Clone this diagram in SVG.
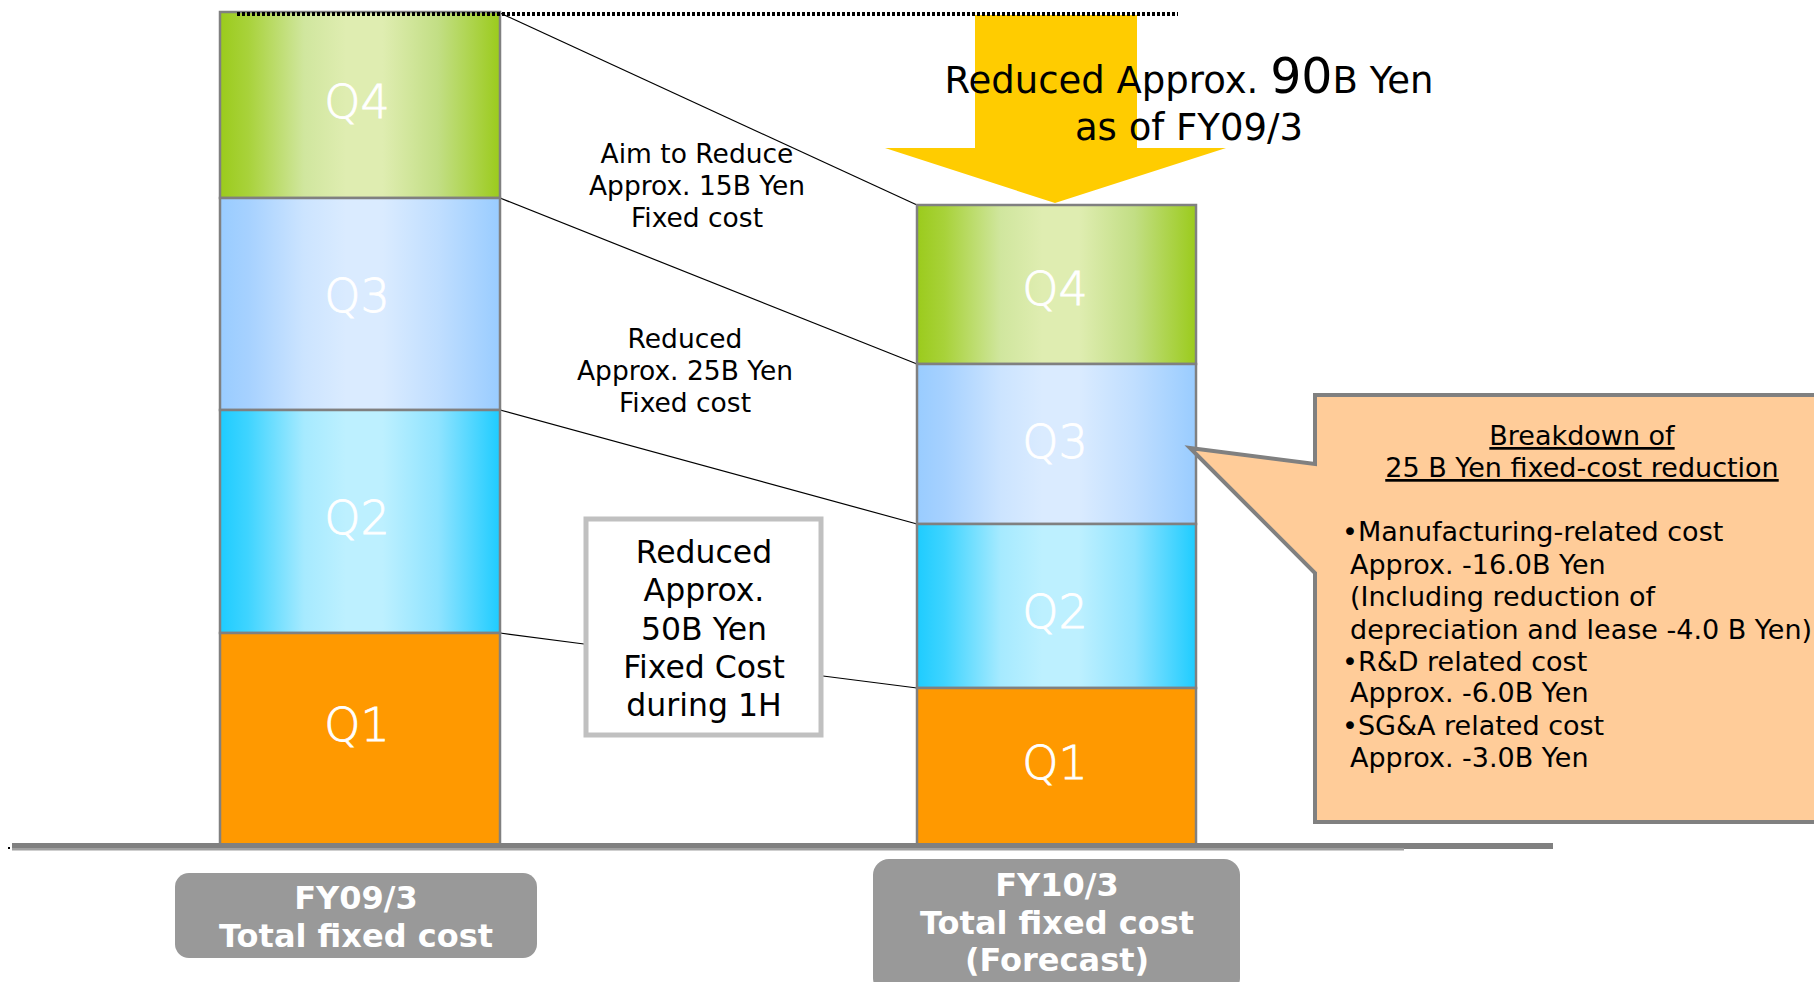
<svg xmlns="http://www.w3.org/2000/svg" width="1814" height="982" viewBox="0 0 1814 982">
<defs>
<linearGradient id="gGreen" x1="0" y1="0" x2="1" y2="0">
<stop offset="0" stop-color="#9BCB1C"/><stop offset="0.1" stop-color="#A8D23A"/><stop offset="0.3" stop-color="#D0E69E"/><stop offset="0.45" stop-color="#DFEDB1"/><stop offset="0.58" stop-color="#DFEDB1"/><stop offset="0.78" stop-color="#C2DE84"/><stop offset="1" stop-color="#9BCB1C"/>
</linearGradient>
<linearGradient id="gBlue" x1="0" y1="0" x2="1" y2="0">
<stop offset="0" stop-color="#99CCFF"/><stop offset="0.1" stop-color="#A6D1FF"/><stop offset="0.3" stop-color="#CCE4FF"/><stop offset="0.45" stop-color="#DAEBFF"/><stop offset="0.58" stop-color="#DAEBFF"/><stop offset="0.78" stop-color="#C0DEFF"/><stop offset="1" stop-color="#99CCFF"/>
</linearGradient>
<linearGradient id="gCyan" x1="0" y1="0" x2="1" y2="0">
<stop offset="0" stop-color="#1ECCFF"/><stop offset="0.1" stop-color="#3FD4FF"/><stop offset="0.3" stop-color="#A6EAFF"/><stop offset="0.45" stop-color="#BDF0FF"/><stop offset="0.58" stop-color="#BDF0FF"/><stop offset="0.78" stop-color="#8FE3FF"/><stop offset="1" stop-color="#1ECCFF"/>
</linearGradient>
</defs>
<style>
text{font-family:"DejaVu Sans",Verdana,"Liberation Sans",sans-serif;fill:#000}
.seg{stroke:#808080;stroke-width:2.5}
.q{fill:#fff;stroke:#fff;stroke-width:0.8;font-size:46px;font-weight:200;text-anchor:middle}
.lbl{font-size:26.5px;text-anchor:middle}
.conn{stroke:#000;stroke-width:1.2;fill:none}
.bot{fill:#fff;font-size:32px;font-weight:bold;text-anchor:middle}
.cb{font-size:27px}
.bx{font-size:31.5px;text-anchor:middle}
</style>
<rect width="1814" height="982" fill="#fff"/>

<g id="connectors">
<line class="conn" x1="500" y1="13" x2="917" y2="205"/>
<line class="conn" x1="500" y1="198" x2="917" y2="364"/>
<line class="conn" x1="500" y1="410" x2="917" y2="524"/>
<line class="conn" x1="500" y1="633" x2="584" y2="644"/>
<line class="conn" x1="823" y1="676" x2="917" y2="688"/>
</g>

<g id="arrow">
<polygon points="975,15 1137,15 1137,148 1226,148 1055,203 885,148 975,148" fill="#FFCC00"/>
</g>

<g id="bar-fy09">
<rect class="seg" x="220" y="12" width="280" height="186" fill="url(#gGreen)"/>
<rect class="seg" x="220" y="198" width="280" height="212" fill="url(#gBlue)"/>
<rect class="seg" x="220" y="410" width="280" height="223" fill="url(#gCyan)"/>
<rect class="seg" x="220" y="633" width="280" height="213" fill="#FF9900"/>
<text class="q" x="357" y="118">Q4</text>
<text class="q" x="357" y="312">Q3</text>
<text class="q" x="357" y="534">Q2</text>
<text class="q" x="357" y="741">Q1</text>
</g>

<g id="bar-fy10">
<rect class="seg" x="917" y="205" width="279" height="159" fill="url(#gGreen)"/>
<rect class="seg" x="917" y="364" width="279" height="160" fill="url(#gBlue)"/>
<rect class="seg" x="917" y="524" width="279" height="164" fill="url(#gCyan)"/>
<rect class="seg" x="917" y="688" width="279" height="158" fill="#FF9900"/>
<text class="q" x="1055" y="305">Q4</text>
<text class="q" x="1055" y="458">Q3</text>
<text class="q" x="1055" y="628">Q2</text>
<text class="q" x="1055" y="779">Q1</text>
</g>

<g id="dotted-top">
<line x1="237" y1="14" x2="1178" y2="14" stroke="#000" stroke-width="4" stroke-dasharray="3 2"/>
</g>

<g id="axis">
<rect x="12" y="843" width="1541" height="6" fill="#808080"/>
<rect x="12" y="848" width="1392" height="2.5" fill="#A0A0A0"/>
<rect x="8" y="847" width="2" height="2" fill="#000"/>
</g>

<g id="title-90b">
<text x="1189" y="93" text-anchor="middle" style="font-size:37px">Reduced Approx. <tspan style="font-size:49px">90</tspan>B Yen</text>
<text x="1189" y="140" text-anchor="middle" style="font-size:37px">as of FY09/3</text>
</g>

<g id="label-15b">
<text class="lbl" x="697" y="163">Aim to Reduce</text>
<text class="lbl" x="697" y="195">Approx. 15B Yen</text>
<text class="lbl" x="697" y="227">Fixed cost</text>
</g>

<g id="label-25b">
<text class="lbl" x="685" y="348">Reduced</text>
<text class="lbl" x="685" y="380">Approx. 25B Yen</text>
<text class="lbl" x="685" y="412">Fixed cost</text>
</g>

<g id="box-50b">
<rect x="586" y="519" width="235" height="216" fill="#fff" stroke="#C0C0C0" stroke-width="5"/>
<text class="bx" x="704" y="563">Reduced</text>
<text class="bx" x="704" y="601">Approx.</text>
<text class="bx" x="704" y="640">50B Yen</text>
<text class="bx" x="704" y="678">Fixed Cost</text>
<text class="bx" x="704" y="716">during 1H</text>
</g>

<g id="callout">
<polygon points="1315,395 1830,395 1830,822 1315,822 1315,573 1190,448 1315,464" fill="#FFCC99" stroke="#808080" stroke-width="4"/>
<text class="cb" x="1582" y="445" text-anchor="middle" text-decoration="underline">Breakdown of</text>
<text class="cb" x="1582" y="477" text-anchor="middle" text-decoration="underline">25 B Yen fixed-cost reduction</text>
<text class="cb" x="1342" y="541">•Manufacturing-related cost</text>
<text class="cb" x="1350" y="574">Approx. -16.0B Yen</text>
<text class="cb" x="1350" y="606">(Including reduction of</text>
<text class="cb" x="1350" y="639">depreciation and lease -4.0 B Yen)</text>
<text class="cb" x="1342" y="671">•R&amp;D related cost</text>
<text class="cb" x="1350" y="702">Approx. -6.0B Yen</text>
<text class="cb" x="1342" y="735">•SG&amp;A related cost</text>
<text class="cb" x="1350" y="767">Approx. -3.0B Yen</text>
</g>

<g id="label-fy09">
<rect x="175" y="873" width="362" height="85" rx="14" fill="#999999"/>
<text class="bot" x="356" y="909">FY09/3</text>
<text class="bot" x="356" y="947">Total fixed cost</text>
</g>

<g id="label-fy10">
<rect x="873" y="859" width="367" height="135" rx="16" fill="#999999"/>
<text class="bot" x="1057" y="896">FY10/3</text>
<text class="bot" x="1057" y="934">Total fixed cost</text>
<text class="bot" x="1057" y="971">(Forecast)</text>
</g>
</svg>
